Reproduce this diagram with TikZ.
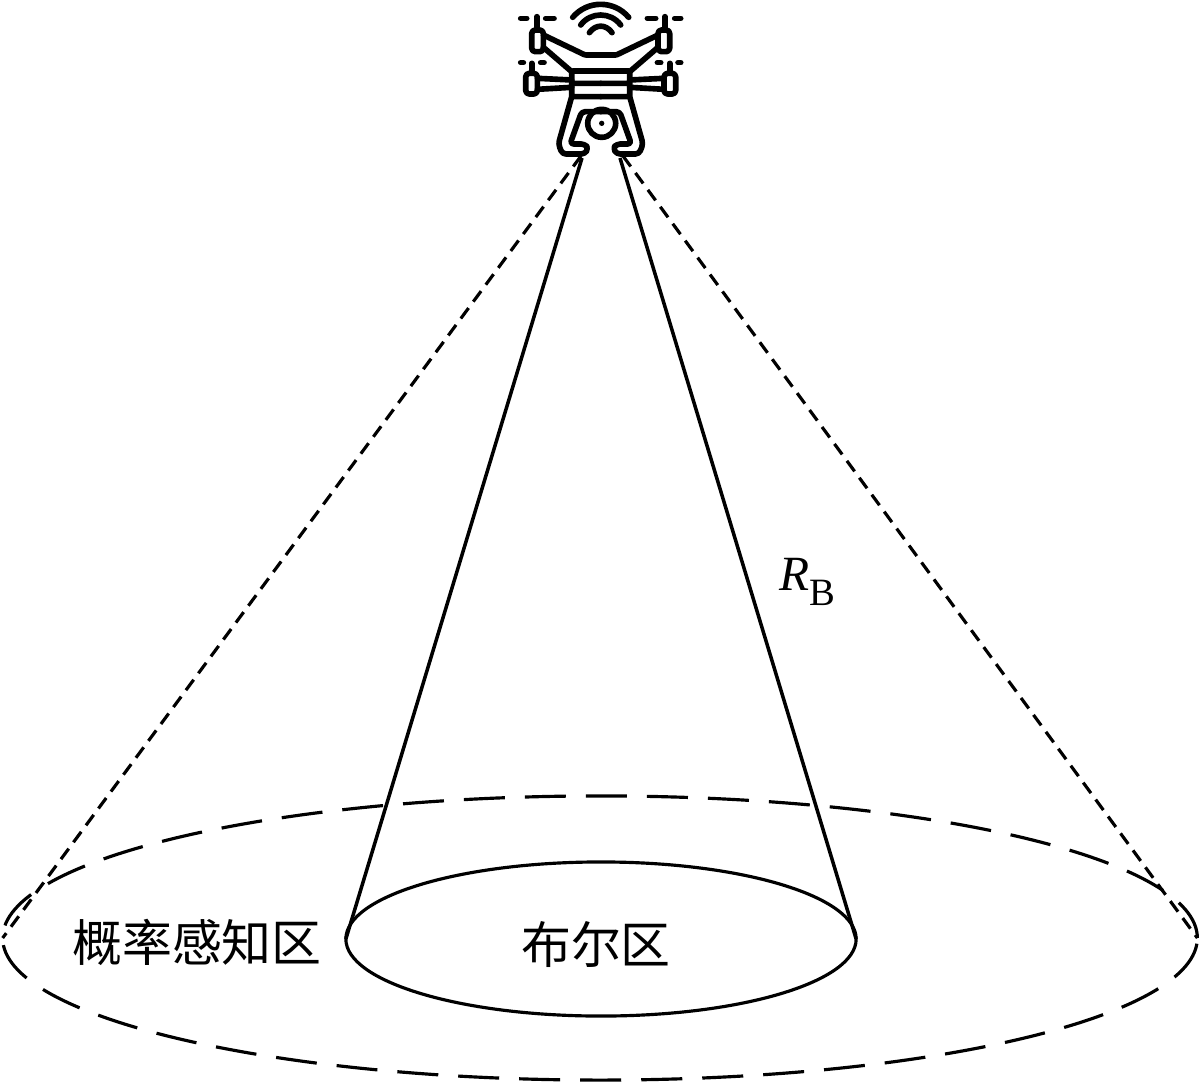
\documentclass[tikz,border=0pt]{standalone}
\usepackage{fontspec}
\setmainfont{Liberation Serif}
\newfontfamily\cjk{Noto Sans CJK SC}
\usetikzlibrary{shapes.geometric, positioning}
\tikzset{
    zone/.style={ellipse, draw, line width=.9pt, inner sep=0, outer sep=0},
    longdash/.style={dash pattern=on .41cm off .2cm},
    shortdash/.style={line width=.9pt, dash pattern=on .13cm off .08cm},
    ray/.style={line width=1pt},
    label/.style={font=\cjk\fontsize{14.2pt}{16pt}\selectfont, inner sep=0},
    drone/.style={line width=1.6pt, line cap=round, line join=round, rounded corners=.3pt},
}

\begin{document}
\begin{tikzpicture}[x=.01cm, y=-.01cm]
    \useasboundingbox (0, 0) rectangle (1200, 1088);

    \node[zone, longdash, minimum width=11.94cm, minimum height=2.84cm] (probzone) at (600, 938) {};
    \node[zone, minimum width=5.1cm, minimum height=1.54cm] (boolzone) at (601, 939) {};
    \node[label] (problabel) at (197, 942) {概率感知区};
    \node[label] (boollabel) at (596, 945) {布尔区};
    \node[inner sep=0] (radius) at (807, 582) {\fontsize{14pt}{16pt}\selectfont\textit{R}\raisebox{-.3em}{\fontsize{11pt}{12pt}\selectfont B}};

    \coordinate (legL) at (582, 158);
    \coordinate (legR) at (620, 158);
    \coordinate (tipL) at (581, 156);
    \coordinate (tipR) at (623, 156);

    \draw[ray] (legL) -- (boolzone.west);
    \draw[ray] (legR) -- (boolzone.east);
    \draw[shortdash] (tipL) -- (probzone.west);
    \draw[shortdash] (tipR) -- (probzone.east);

    % drone, half of it mirrored
    \begin{scope}[shift={(600.7, 0)}, x=.01cm/3, y=-.01cm/3, drone]
        \foreach \s in {1, -1} {
            \begin{scope}[xscale=\s]
                \draw (-240, 55) -- (-222, 55) (-165, 55) -- (-140, 55) (-192, 50) -- (-192, 85);
                \draw[rounded corners=1pt] (-207, 90) rectangle (-172, 155);
                \draw (-172, 105) -- (-47, 165) -- (0, 165);
                \draw (-172, 142) -- (-87, 215);
                \draw (-240, 188) -- (-232, 188) (-180, 188) -- (-170, 188) (-207, 190) -- (-207, 215);
                \draw[rounded corners=1pt] (-225, 220) rectangle (-190, 282);
                \draw (-190, 235) -- (-87, 240) (-190, 268) -- (-87, 262);
                \draw (0, 213) -- (-87, 213) -- (-87, 290) -- (0, 290) (-87, 250) -- (0, 250);
                \draw[rounded corners=1pt] (-87, 290) -- (-127, 432) -- (-115, 462) -- (-48, 462) -- (-37, 445) -- (-48, 432) -- (-92, 432) -- (-57, 335) -- (0, 335);
            \end{scope}
        }
        \draw (-84, 52) .. controls (-40, 0) and (40, 0) .. (84, 52);
        \draw (-60, 75) .. controls (-30, 35) and (30, 35) .. (60, 75);
        \draw (-34, 98) .. controls (-15, 72) and (15, 72) .. (34, 98);
        \draw (3, 370) circle (42);
        \fill (3, 370) circle (8);
    \end{scope}
\end{tikzpicture}
\end{document}
